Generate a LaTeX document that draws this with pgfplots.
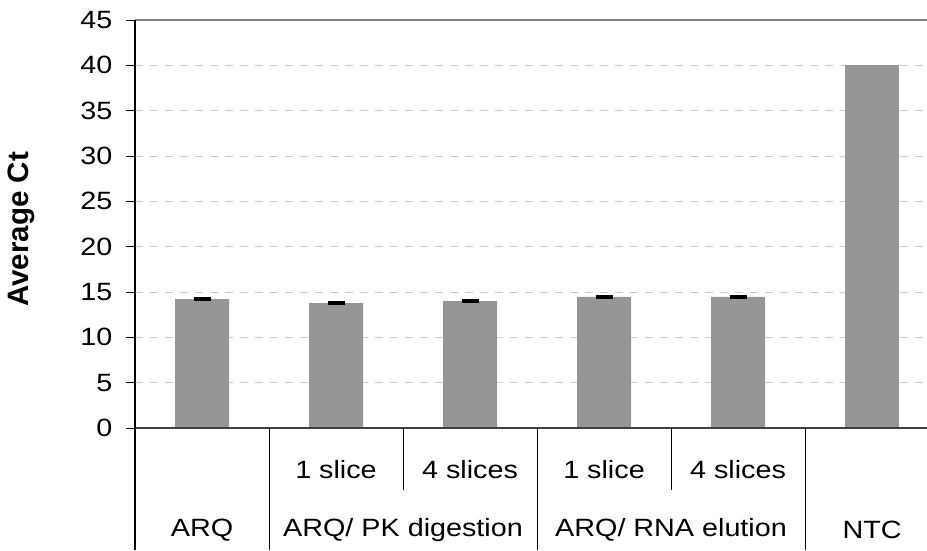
\documentclass[border=0pt]{standalone}
\usepackage{pgfplots}
\pgfplotsset{compat=1.18}
\usepackage{fontspec}
\setmainfont[FakeStretch=1.15, BoldFeatures={FakeStretch=1.15}]{Liberation Sans}
\newfontfamily\lbfont{Liberation Sans}
\definecolor{barg}{RGB}{150,150,150}
\definecolor{gridg}{RGB}{204,204,204}
\definecolor{topg}{RGB}{128,128,128}
\definecolor{botg}{RGB}{64,64,64}

\pgfplotstableread{
x y e
0 14.22 0.08
1 13.78 0.12
2 14.00 0.08
3 14.45 0.06
4 14.45 0.06
}\ctdata
\pgfplotstableread{
x y
5 40.00
}\ntcdata

\begin{document}
\fontsize{25}{30}\selectfont
\begin{tikzpicture}[x=1pt,y=1pt]
\useasboundingbox (0,0) rectangle (927,550);
\begin{axis}[
    at={(135pt,122pt)}, anchor=south west,
    scale only axis, width=792pt, height=408pt,
    xmin=-0.5, xmax=5.41, ymin=0, ymax=45,
    ytick={0,5,...,45}, xtick=\empty,
    yticklabels={0,5,10,15,20,25,30,35,40,45},
    ytick pos=left,
    ymajorgrids,
    grid style={gridg, dash pattern=on 8pt off 7pt, line width=1pt},
    axis line style={draw=none},
    tick align=outside, major tick length=9pt,
    tick style={black, line width=1pt},
    yticklabel style={font=\fontsize{25}{30}\selectfont, anchor=east, xshift=-5pt},
    ylabel={Average Ct},
    ylabel style={at={(axis description cs:0,0.487)}, anchor=south, yshift=92pt,
        font=\fontsize{29.5}{34}\lbfont\bfseries},
    clip=false,
]
    \addplot[ybar, bar width=54pt, fill=barg, draw=none,
        error bars/.cd, y dir=both, y explicit, error mark=|,
        error bar style={black, line width=1.5pt},
        error mark options={black, mark size=8.5pt, line width=2pt}]
        table[x=x, y=y, y error=e] {\ctdata};
    \addplot[ybar, bar width=54pt, fill=barg, draw=none]
        table[x=x, y=y] {\ntcdata};

    \draw[topg, line width=2pt] (rel axis cs:0,1) -- (rel axis cs:1,1);
    \draw[botg, line width=2pt] (rel axis cs:0,0) -- (rel axis cs:1,0);
    \draw[black, line width=1.2pt] (rel axis cs:0,1) -- ([yshift=-122pt]rel axis cs:0,0);
    % category separators under the axis
    \draw[black, line width=1pt] (axis cs:0.5,0) -- ([yshift=-122pt]axis cs:0.5,0);
    \draw[black, line width=1pt] (axis cs:2.5,0) -- ([yshift=-122pt]axis cs:2.5,0);
    \draw[black, line width=1pt] (axis cs:4.5,0) -- ([yshift=-122pt]axis cs:4.5,0);
    \draw[black, line width=1pt] (axis cs:1.5,0) -- ([yshift=-62pt]axis cs:1.5,0);
    \draw[black, line width=1pt] (axis cs:3.5,0) -- ([yshift=-62pt]axis cs:3.5,0);
    \node at ([yshift=-42pt]axis cs:1,0) {1 slice};
    \node at ([yshift=-42pt]axis cs:2,0) {4 slices};
    \node at ([yshift=-42pt]axis cs:3,0) {1 slice};
    \node at ([yshift=-42pt]axis cs:4,0) {4 slices};
    \node at ([yshift=-102pt]axis cs:0,0) {ARQ};
    \node at ([yshift=-102pt]axis cs:1.5,0) {ARQ/ PK digestion};
    \node at ([yshift=-102pt]axis cs:3.5,0) {ARQ/ RNA elution};
    \node at ([yshift=-102pt]axis cs:5,0) {NTC};
\end{axis}
\end{tikzpicture}
\end{document}
